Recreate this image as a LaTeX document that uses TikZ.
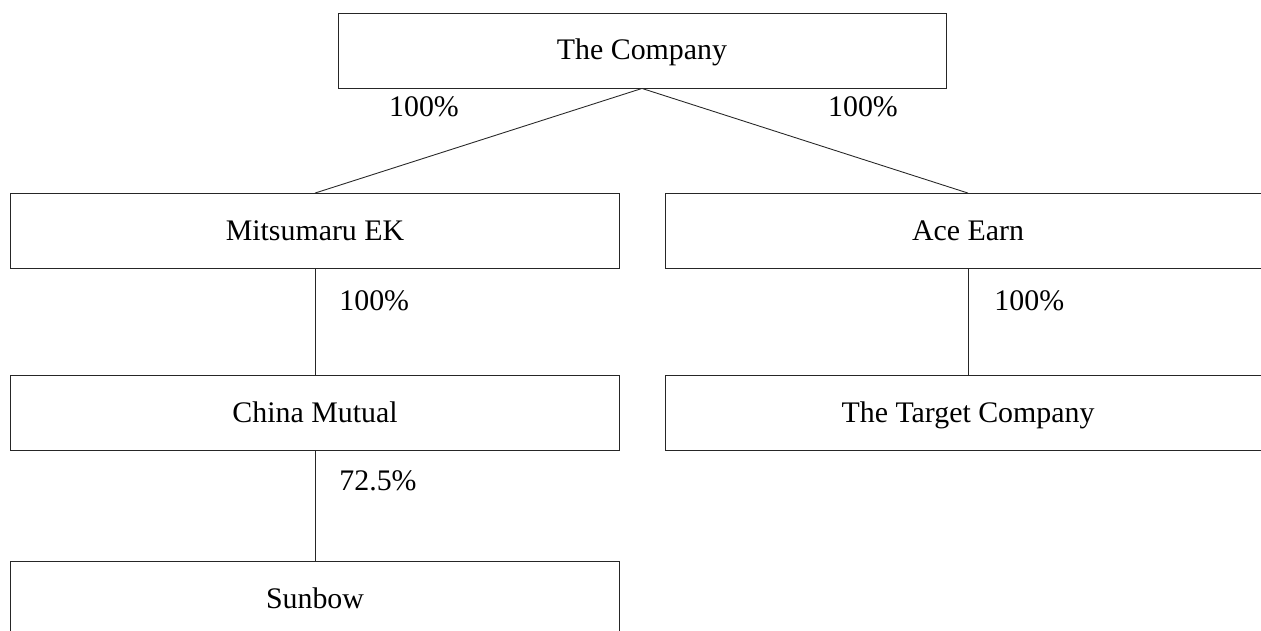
\documentclass[tikz,border=0pt]{standalone}
\usepackage{fontspec}
\setmainfont{Liberation Serif}
\usetikzlibrary{positioning}

\begin{document}
\begin{tikzpicture}[x = 0.02cm, y = -0.02cm, % one unit is one pixel of the scan
                node distance = 2.12cm, % gap between stacked boxes
                line width = 0.5pt % line style
            ]

            \tikzstyle{box}=[draw = black!85, rectangle, inner sep = 0pt,
            minimum width = 12.18cm, minimum height = 1.5cm,
            text height = 10.6pt, text depth = 0pt,
            font = \fontsize{17}{20}\selectfont]
            \tikzstyle{pct}=[inner sep = 0pt, font = \fontsize{17}{20}\selectfont]

            \clip (0,0) rectangle (1261,630);

            \node (company) [box, minimum width = 12.16cm] at (642,50.5) {The Company};
            \node (mitsu) [box] at (315,231) {Mitsumaru EK};
            \node (ace) [box, minimum width = 12.12cm] at (968,231) {Ace Earn};
            \node (china) [box, below=of mitsu] {China Mutual};
            \node (target) [box, minimum width = 12.12cm, below=of ace] {The Target Company};
            \node (sunbow) [box, below=2.2cm of china] {Sunbow};

            \node (p1) [pct] at (424,107) {100\%};
            \node (p2) [pct] at (863,107) {100\%};
            \node (p3) [pct, anchor=west] at (339,301) {100\%};
            \node (p4) [pct, anchor=west] at (994,301) {100\%};
            \node (p5) [pct, anchor=west] at (339,481) {72.5\%};

            \path[draw = black!85] (company.south) edge (mitsu.north); \path[draw = black!85]
            (company.south) edge (ace.north); \path[draw = black!85] (mitsu) edge (china);
            \path[draw = black!85] (ace) edge (target); \path[draw = black!85] (china) edge
            (sunbow);
        \end{tikzpicture}
\end{document}
